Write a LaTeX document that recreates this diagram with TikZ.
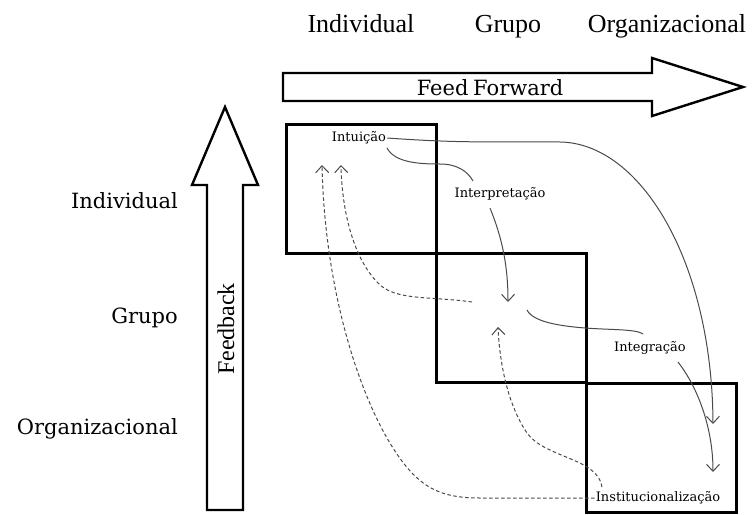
\documentclass[tikz,border=0pt]{standalone}
\usepackage{fontspec}
\setmainfont{DejaVu Serif}
\newfontfamily\tms{Liberation Serif}
\usetikzlibrary{arrows.meta}
\definecolor{curve}{HTML}{4A4A4A}
\begin{document}
\begin{tikzpicture}[x=1pt,y=-1pt,
  bigarrow/.style={draw=black, line width=2.4pt, fill=white, line join=miter},
  stagebox/.style={draw=black, line width=3.2pt, minimum width=150pt, minimum height=129pt, anchor=north west, inner sep=0pt},
  flowline/.style={draw=curve, line width=1pt},
  flow/.style={flowline, -{Straight Barb[length=7pt,width=13pt]}},
  fb/.style={flow, dash pattern=on 3.5pt off 2.5pt},
  toplbl/.style={font=\tms\fontsize{26}{30}\selectfont, anchor=base, inner sep=0pt},
  sidelbl/.style={font=\fontsize{21}{25}\selectfont, anchor=base east, inner sep=0pt},
  small/.style={font=\fontsize{13}{15}\selectfont, inner sep=1pt}
]
\useasboundingbox (0,0) rectangle (752,514);

% header labels
\node[toplbl] (hInd) at (361,32) {Individual};
\node[toplbl] (hGru) at (508,32) {Grupo};
\node[toplbl] (hOrg) at (667,32) {Organizacional};

% side labels
\node[sidelbl] (sInd) at (178,208) {Individual};
\node[sidelbl] (sGru) at (178,323) {Grupo};
\node[sidelbl] (sOrg) at (178,434) {Organizacional};

% Feed Forward arrow
\draw[bigarrow] (283,73) -- (652,73) -- (652,58) -- (743,87) -- (652,116) -- (652,101) -- (283,101) -- cycle;
\node[font=\fontsize{21}{25}\selectfont, inner sep=0pt] (ff) at (490,88) {Feed\hspace{-2pt} Forward};

% Feedback arrow
\draw[bigarrow] (207,510) -- (207,185) -- (192,185) -- (225,107) -- (258,185) -- (243,185) -- (243,510) -- cycle;
\node[font=\tms\fontsize{24}{28}\selectfont, rotate=90, inner sep=0pt] (fbk) at (226,329) {Feedback};

% stage boxes
\node[stagebox] (b1) at (285,123) {};
\node[stagebox] (b2) at (435,252) {};
\node[stagebox] (b3) at (585,382) {};

% process labels
\node[small] (intu) at (359,138) {Intuição};
\node[small] (inte) at (500,194) {Interpretação};
\node[small] (integ) at (650,348) {Integração};
\node[small] (inst) at (658,498) {Institucionalização};

% free ends
\coordinate (gA) at (713,424);
\coordinate (gB) at (713,472);
\coordinate (cen1) at (508,302);
\coordinate (cen2) at (498,327);
\coordinate (fb1) at (341,165);
\coordinate (fb2) at (322,165);

% solid feed-forward curves
\draw[flow] (intu.east) .. controls (470,144) and (500,141) .. (560,142) .. controls (640,143) and (712,260) .. (gA);
\draw[flowline] (387,148) .. controls (395,163) and (420,164) .. (440,164) .. controls (458,164) and (468,172) .. (473,181);
\draw[flow] (490,208) .. controls (503,240) and (508,268) .. (cen1);
\draw[flowline] (527,310) .. controls (533,322) and (560,326) .. (585,328) .. controls (612,330) and (636,329) .. (643,334);
\draw[flow] (678,362) .. controls (696,385) and (713,425) .. (gB);

% dashed feedback curves
\draw[fb] (472,302) .. controls (430,296) and (395,301) .. (378,283) .. controls (355,260) and (342,215) .. (fb1);
\draw[fb] (inst.west) -- (480,498) .. controls (445,498) and (425,490) .. (405,465) .. controls (365,415) and (325,300) .. (fb2);
\draw[fb] (602,487) .. controls (598,458) and (545,458) .. (527,433) .. controls (510,408) and (500,370) .. (cen2);
\end{tikzpicture}
\end{document}
